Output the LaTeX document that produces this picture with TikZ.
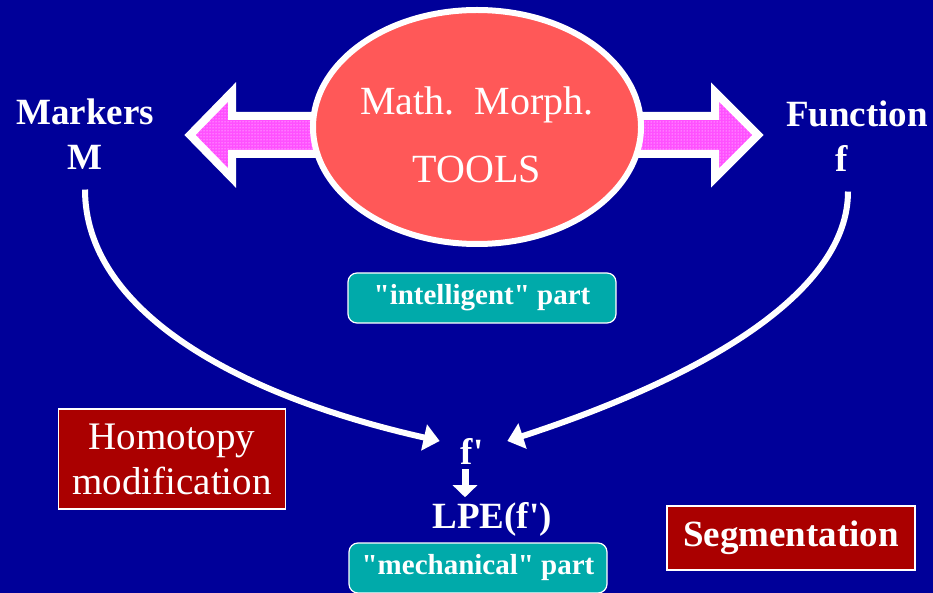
\documentclass[tikz,border=0pt]{standalone}
\usepackage{fontspec}
\setmainfont{Liberation Serif}
\usetikzlibrary{arrows.meta, positioning, shapes.geometric, patterns}

\definecolor{slideblue}{RGB}{0,0,153}
\definecolor{toolsred}{RGB}{255,88,88}
\definecolor{wingpink}{RGB}{255,80,255}
\definecolor{partteal}{RGB}{0,170,170}
\definecolor{taskred}{RGB}{170,0,0}

\begin{document}
\begin{tikzpicture}[
    x=1pt, y=-1pt,
    text=white,
    labeltext/.style={align=center, inner sep=2pt, font=\fontsize{37}{45}\selectfont\bfseries},
    toolsellipse/.style={ellipse, draw=white, line width=6pt, fill=toolsred, minimum width=328pt, minimum height=234pt},
    partbox/.style={rectangle, draw=white, line width=1.2pt, fill=partteal, rounded corners=9pt, minimum height=50pt, inner sep=0pt, font=\fontsize{29}{32}\selectfont\bfseries},
    taskbox/.style={rectangle, draw=white, line width=1.2pt, fill=taskred, inner sep=0pt, align=center},
    wingarrow/.style={draw=white, line width=8pt, line join=miter, fill=wingpink, postaction={pattern=dots, pattern color=white}},
    bentarrow/.style={draw=white, line width=6pt, -{Triangle[length=16pt, width=26pt]}},
    downarrow/.style={draw=white, line width=7pt, -{Triangle[length=12pt, width=24pt]}}
]
\fill[slideblue] (0,0) rectangle (933,593);
\useasboundingbox (0,0) rectangle (933,593);

% wide arrows behind the tools
\draw[wingarrow] (190,135) -- (232,92) -- (232,116) -- (340,116) -- (340,154) -- (232,154) -- (232,178) -- cycle;
\draw[wingarrow] (758,135) -- (715,92) -- (715,116) -- (615,116) -- (615,154) -- (715,154) -- (715,178) -- cycle;

\node[toolsellipse] (tools) at (477,127) {};
\node[font=\fontsize{40}{68}\selectfont, align=center] (toolsname) at (477,135) {Math.\ \ Morph.\\TOOLS};

\node[labeltext] (markers) at (85,134) {Markers\\M};
\node[labeltext] (function) at (857,136) {Function\\\hspace*{-30pt}f};

\node[partbox, minimum width=268pt] (intelligent) at (482,298) {\textquotedbl intelligent\textquotedbl{} part};

\node[labeltext] (fprime) at (467,451) {f\rlap{\textquotesingle}};
\node[labeltext, below=34pt of fprime, xshift=25pt] (lpe) {LPE(f\textquotesingle)};
\node[partbox, minimum width=258pt] (mechanical) at (478,568) {\textquotedbl mechanical\textquotedbl{} part};

\node[taskbox, minimum width=227pt, minimum height=100pt, font=\fontsize{39}{45}\selectfont] (homotopy) at (172,459) {Homotopy\\modification};
\node[taskbox, minimum width=248pt, minimum height=64pt, font=\fontsize{37}{40}\selectfont\bfseries] (segmentation) at (791,538) {Segmentation};

% connectors
\draw[bentarrow] ([yshift=-18pt]markers.south) .. controls (85,310) and (235,395) .. ([xshift=-19pt, yshift=10pt]fprime.west);
\draw[bentarrow] ([xshift=-9pt, yshift=-18pt]function.south) .. controls (848,290) and (710,375) .. ([xshift=32pt, yshift=10pt]fprime.east);
\draw[downarrow, shorten <=3pt, shorten >=3pt] ([xshift=-2pt]fprime.south) -- ([xshift=-2pt]fprime.south |- lpe.north);
\end{tikzpicture}
\end{document}
